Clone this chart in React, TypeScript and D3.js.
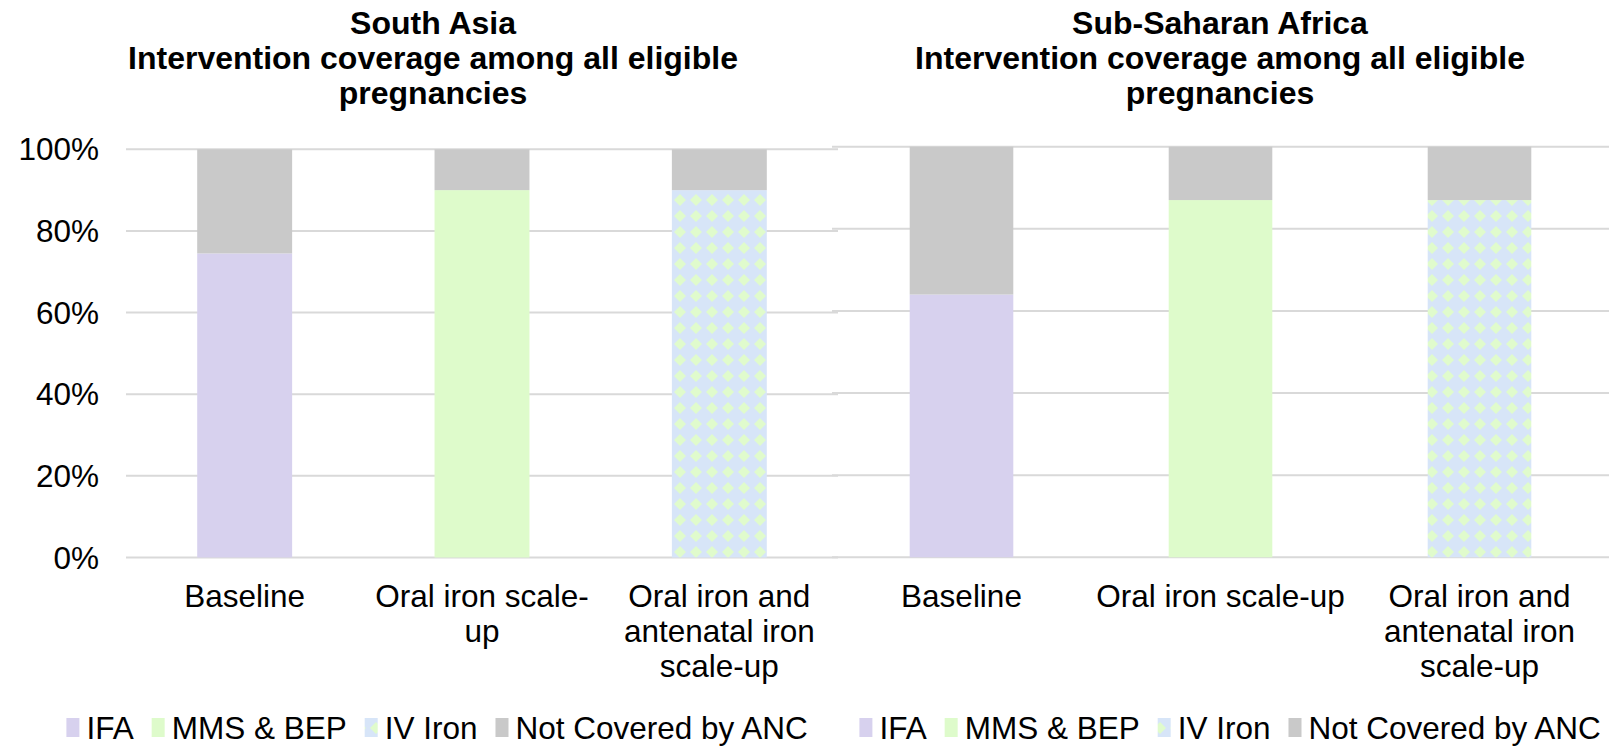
import React from "react";
import * as d3 from "d3";

// ---- data ----
const categories = ["Baseline", "Oral iron scale-up", "Oral iron and antenatal iron scale-up"];
const seriesNames = ["IFA", "MMS & BEP", "IV Iron", "Not Covered by ANC"];
const seriesColors = ["#D7D1EE", "#DEFBCB", "url(#ivIronPattern)", "#C9C9C9"];
const yTicks = [0, 20, 40, 60, 80, 100];
const subtitle = "Intervention coverage among all eligible pregnancies";

const regionNames = ["South Asia", "Sub-Saharan Africa"];

// South Asia (% of eligible pregnancies)
const saIFA = [74.5, 0, 0];
const saMMS = [0, 90, 0];
const saIV = [0, 0, 90];
const saNotCovered = [25.5, 10, 10];

// Sub-Saharan Africa (% of eligible pregnancies)
const ssaIFA = [64, 0, 0];
const ssaMMS = [0, 87, 0];
const ssaIV = [0, 0, 87];
const ssaNotCovered = [36, 13, 13];

const regionSeries = [
  [saIFA, saMMS, saIV, saNotCovered],
  [ssaIFA, ssaMMS, ssaIV, ssaNotCovered],
];

// ---- layout ----
const W = 1619;
const H = 747;
const FONT = '"Liberation Sans", Arial, sans-serif';
const TEXT_SIZE = 31.5;
const TITLE_SIZE = 32;

const panels = [
  { left: 126, right: 838, top: 149.3, bottom: 557.5, yAxis: true, titleX: 433, legendX: 438 },
  { left: 832, right: 1609, top: 146.7, bottom: 557.3, yAxis: false, titleX: 1220, legendX: 1231 },
];

let measureCtx: CanvasRenderingContext2D | null = null;
function textWidth(s: string, size: number, bold = false): number {
  if (!measureCtx) measureCtx = document.createElement("canvas").getContext("2d");
  measureCtx!.font = `${bold ? "bold " : ""}${size}px ${FONT}`;
  return measureCtx!.measureText(s).width;
}

// break after spaces and hyphens, greedy fill to maxWidth
function wrap(s: string, maxWidth: number, size: number, bold = false): string[] {
  const tokens = s.match(/[^\s-]+-?|\s+/g) || [];
  const lines: string[] = [];
  let cur = "";
  for (const t of tokens) {
    const trial = cur + t;
    if (cur.trim() !== "" && textWidth(trial.trimEnd(), size, bold) > maxWidth && t.trim() !== "") {
      lines.push(cur.trim());
      cur = t;
    } else {
      cur = trial;
    }
  }
  if (cur.trim() !== "") lines.push(cur.trim());
  return lines;
}

function Panel({ index }: { index: number }) {
  const p = panels[index];
  const data = categories.map((c, i) => {
    const row: any = { category: c };
    seriesNames.forEach((s, k) => (row[s] = regionSeries[index][k][i]));
    return row;
  });
  const stacked = d3.stack<any>().keys(seriesNames)(data);

  const x = d3.scaleBand<string>().domain(categories).range([p.left, p.right]).paddingInner(0.6).paddingOuter(0.3);
  const band = (p.right - p.left) / categories.length;
  const y = d3.scaleLinear().domain([0, 100]).range([p.bottom, p.top]);

  const titleLines = [regionNames[index], ...wrap(subtitle, 650, TITLE_SIZE, true)];

  // legend layout
  const mW = 13, mH = 19, mGap = 7, itemGap = 18;
  const widths = seriesNames.map((s) => textWidth(s, TEXT_SIZE));
  const total = d3.sum(widths) + seriesNames.length * (mW + mGap) + (seriesNames.length - 1) * itemGap;
  let cursor = p.legendX - total / 2;
  const legendItems = seriesNames.map((s, k) => {
    const item = { name: s, x: cursor, color: seriesColors[k] };
    cursor += mW + mGap + widths[k] + itemGap;
    return item;
  });
  const legendBaseline = 739;

  return (
    <g>
      {titleLines.map((t, i) => (
        <text key={i} x={p.titleX} y={34 + i * 35} textAnchor="middle" fontFamily={FONT} fontSize={TITLE_SIZE} fontWeight="bold" fill="#000">
          {t}
        </text>
      ))}
      {yTicks.map((t) => (
        <line key={t} x1={p.left} x2={p.right} y1={y(t)} y2={y(t)} stroke="#D9D9D9" strokeWidth={2} />
      ))}
      {p.yAxis &&
        yTicks.map((t) => (
          <text key={"l" + t} x={99} y={y(t)} dy="0.35em" textAnchor="end" fontFamily={FONT} fontSize={TEXT_SIZE} fill="#000">
            {d3.format(".0%")(t / 100)}
          </text>
        ))}
      {stacked.map((layer, k) => (
        <g key={layer.key} fill={seriesColors[k]}>
          {layer.map((d, i) =>
            d[1] - d[0] > 0 ? (
              <rect key={i} x={x(categories[i])} width={x.bandwidth()} y={y(d[1])} height={y(d[0]) - y(d[1])} />
            ) : null
          )}
        </g>
      ))}
      {categories.map((c) => {
        const lines = wrap(c, band, TEXT_SIZE);
        const cx = x(c)! + x.bandwidth() / 2;
        return lines.map((ln, j) => (
          <text key={c + j} x={cx} y={607 + j * 35} textAnchor="middle" fontFamily={FONT} fontSize={TEXT_SIZE} fill="#000">
            {ln}
          </text>
        ));
      })}
      {legendItems.map((it) => (
        <g key={it.name}>
          <rect x={it.x} y={legendBaseline - 21} width={mW} height={mH} fill={it.color} />
          <text x={it.x + mW + mGap} y={legendBaseline} fontFamily={FONT} fontSize={TEXT_SIZE} fill="#000">
            {it.name}
          </text>
        </g>
      ))}
    </g>
  );
}

export default function App() {
  return (
    <svg width={W} height={H} style={{ position: "absolute", left: 0, top: 0, background: "#fff" }}>
      <defs>
        <pattern id="ivIronPattern" patternUnits="userSpaceOnUse" width={16} height={16}>
          <rect width={16} height={16} fill="#D7E5F8" />
          <path d="M8,2 L14,8 L8,14 L2,8 Z" fill="#E0FBCC" />
        </pattern>
      </defs>
      <rect width={W} height={H} fill="#fff" />
      <Panel index={0} />
      <Panel index={1} />
    </svg>
  );
}
